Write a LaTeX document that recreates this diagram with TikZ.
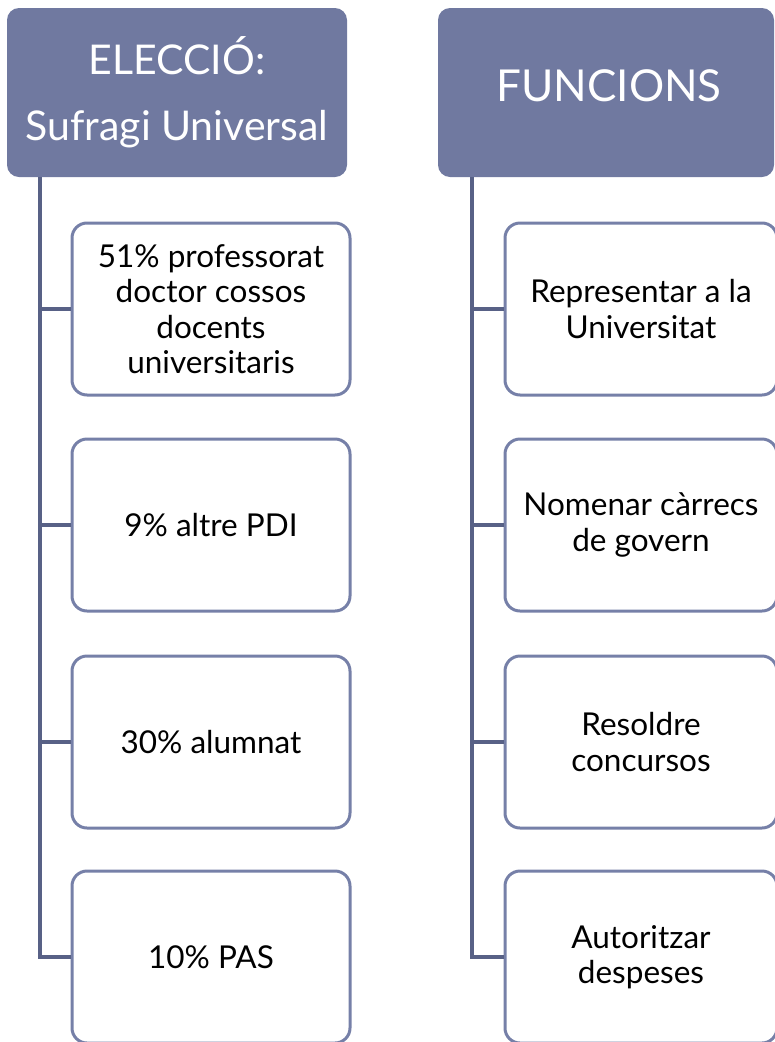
\documentclass[tikz,border=0pt]{standalone}
\usepackage{fontspec}
\setmainfont{Lato}
\usetikzlibrary{calc}
\definecolor{headfill}{RGB}{112,121,160}
\definecolor{boxline}{RGB}{118,128,168}
\definecolor{treeline}{RGB}{88,97,134}
\tikzset{
  head/.style={draw=none, fill=headfill, rounded corners=12pt, minimum width=340pt, minimum height=169pt, text=white, align=center, inner sep=0pt, font=\fontsize{41}{66}\selectfont},
  child/.style={draw=boxline, line width=3pt, fill=white, rounded corners=15pt, minimum width=278pt, minimum height=172pt, align=center, inner sep=0pt, font=\fontsize{31.5}{35.5}\selectfont, text=black},
  tree/.style={draw=treeline, line width=3.5pt}
}
\begin{document}
\begin{tikzpicture}[x=1pt,y=-1pt]
\useasboundingbox (0,0) rectangle (775,1042);
\node[head] (hl) at (177,92.5) {ELECCIÓ:\\Sufragi Universal};
\node[head, minimum width=336pt] (hr) at (606,92.5) {};
\node[text=white, font=\fontsize{44}{50}\selectfont, inner sep=0pt] (hrt) at (609,86) {FUNCIONS};
\coordinate (tl) at ($(hl.south west)+(33,0)$);
\coordinate (tr) at ($(hr.south west)+(34,0)$);
\node[child] (l1) at (211,309) {51\% professorat\\doctor cossos\\docents\\universitaris};
\node[child] (l2) at (211,525) {9\% altre PDI};
\node[child] (l3) at (211,742) {30\% alumnat};
\node[child] (l4) at (211,957) {10\% PAS};
\node[child, minimum width=272pt] (r1) at (641,309) {Representar a la\\Universitat};
\node[child, minimum width=272pt] (r2) at (641,525) {Nomenar càrrecs\\de govern};
\node[child, minimum width=272pt] (r3) at (641,742) {Resoldre\\concursos};
\node[child, minimum width=272pt] (r4) at (641,957) {Autoritzar\\despeses};
\foreach \c in {l1,l2,l3,l4} \draw[tree] (tl) |- (\c.west);
\foreach \c in {r1,r2,r3,r4} \draw[tree] (tr) |- (\c.west);
\end{tikzpicture}
\end{document}
